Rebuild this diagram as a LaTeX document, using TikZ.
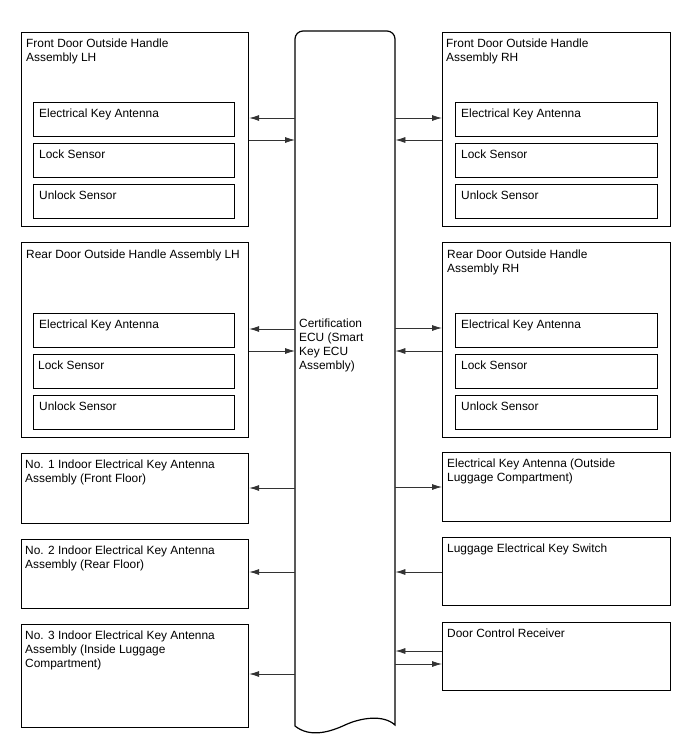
\documentclass[tikz,border=0pt]{standalone}
\usepackage{fontspec}
\setmainfont{Liberation Sans}
\usetikzlibrary{arrows.meta}
\begin{document}
\begin{tikzpicture}[x=1pt,y=-1pt,
  box/.style={draw=black,line width=1.2pt,inner sep=0pt},
  lbl/.style={anchor=north west,inner sep=0pt,align=left,font=\fontsize{11.9}{14}\selectfont},
  conn/.style={draw=black!80,line width=0.8pt,-{Latex[length=10pt,width=6pt]}}]
\useasboundingbox (0,0) rectangle (688,755);
\newcommand{\bx}[5]{\node[box,minimum width=#4-#2,minimum height=#5-#3,anchor=north west] (#1) at (#2,#3) {};}
% ECU
\node[inner sep=0pt,minimum width=100,minimum height=695,anchor=north west] (ecu) at (295,31) {};
\draw[line width=1.2pt,rounded corners=8pt] (295,726) -- (295,31) -- (395,31) [sharp corners] -- (395,725)
  .. controls (383,714) and (360,718) .. (345,725)
  .. controls (330,732) and (310,738) .. (295,726) -- cycle;
\node[lbl] at (299,327-9.8) {\strut Certification\\ECU (Smart\\Key ECU\\Assembly)};
% left column
\bx{flh}{21}{32}{248}{226}
\node[lbl] at (26,47-9.8) {\strut Front Door Outside Handle\\Assembly LH};
\bx{flha}{33}{102}{234}{136}
\bx{flhb}{33}{143}{234}{177}
\bx{flhc}{33}{184}{234}{218}
\node[lbl] at (39,117-9.8) {\strut Electrical Key Antenna};
\node[lbl] at (39,158-9.8) {\strut Lock Sensor};
\node[lbl] at (39,199-9.8) {\strut Unlock Sensor};
\bx{rlh}{21}{242}{248}{437}
\node[lbl] at (26,258-9.8) {\strut Rear Door Outside Handle Assembly LH};
\bx{rlha}{33}{313}{234}{347}
\bx{rlhb}{33}{354}{234}{388}
\bx{rlhc}{33}{395}{234}{429}
\node[lbl] at (39,328-9.8) {\strut Electrical Key Antenna};
\node[lbl] at (38,369-9.8) {\strut Lock Sensor};
\node[lbl] at (39,410-9.8) {\strut Unlock Sensor};
\bx{noa}{21}{453}{248}{523}
\node[lbl] at (25,468-9.8) {\strut No. 1 Indoor Electrical Key Antenna\\Assembly (Front Floor)};
\bx{nob}{21}{539}{248}{608}
\node[lbl] at (25,554-9.8) {\strut No. 2 Indoor Electrical Key Antenna\\Assembly (Rear Floor)};
\bx{noc}{21}{624}{248}{727}
\node[lbl] at (25,639-9.8) {\strut No. 3 Indoor Electrical Key Antenna\\Assembly (Inside Luggage\\Compartment)};
% right column
\bx{frh}{442}{32}{670}{226}
\node[lbl] at (446,47-9.8) {\strut Front Door Outside Handle\\Assembly RH};
\bx{frha}{455}{102}{657}{136}
\bx{frhb}{455}{143}{657}{177}
\bx{frhc}{455}{184}{657}{218}
\node[lbl] at (461,117-9.8) {\strut Electrical Key Antenna};
\node[lbl] at (461,158-9.8) {\strut Lock Sensor};
\node[lbl] at (461,199-9.8) {\strut Unlock Sensor};
\bx{rrh}{442}{242}{670}{437}
\node[lbl] at (447,258-9.8) {\strut Rear Door Outside Handle\\Assembly RH};
\bx{rrha}{455}{313}{657}{347}
\bx{rrhb}{455}{354}{657}{388}
\bx{rrhc}{455}{395}{657}{429}
\node[lbl] at (461,328-9.8) {\strut Electrical Key Antenna};
\node[lbl] at (461,369-9.8) {\strut Lock Sensor};
\node[lbl] at (461,410-9.8) {\strut Unlock Sensor};
\bx{eka}{442}{452}{670}{521}
\node[lbl] at (447,467-9.8) {\strut Electrical Key Antenna (Outside\\Luggage Compartment)};
\bx{lug}{442}{537}{670}{605}
\node[lbl] at (447,552-9.8) {\strut Luggage Electrical Key Switch};
\bx{dcr}{442}{622}{670}{690}
\node[lbl] at (447,637-9.8) {\strut Door Control Receiver};
% connectors
\path[conn] (ecu.west |- 0,118) -- (flh.east |- 0,118);
\path[conn] (flh.east |- 0,140) -- (ecu.west |- 0,140);
\path[conn] (ecu.west |- 0,329) -- (rlh.east |- 0,329);
\path[conn] (rlh.east |- 0,351) -- (ecu.west |- 0,351);
\path[conn] (ecu.west |- 0,488) -- (noa.east |- 0,488);
\path[conn] (ecu.west |- 0,572) -- (nob.east |- 0,572);
\path[conn] (ecu.west |- 0,674) -- (noc.east |- 0,674);
\path[conn] (ecu.east |- 0,118) -- (frh.west |- 0,118);
\path[conn] (frh.west |- 0,140) -- (ecu.east |- 0,140);
\path[conn] (ecu.east |- 0,328) -- (rrh.west |- 0,328);
\path[conn] (rrh.west |- 0,351) -- (ecu.east |- 0,351);
\path[conn] (ecu.east |- 0,487) -- (eka.west |- 0,487);
\path[conn] (lug.west |- 0,572) -- (ecu.east |- 0,572);
\path[conn] (dcr.west |- 0,651) -- (ecu.east |- 0,651);
\path[conn] (ecu.east |- 0,664) -- (dcr.west |- 0,664);
\end{tikzpicture}
\end{document}
